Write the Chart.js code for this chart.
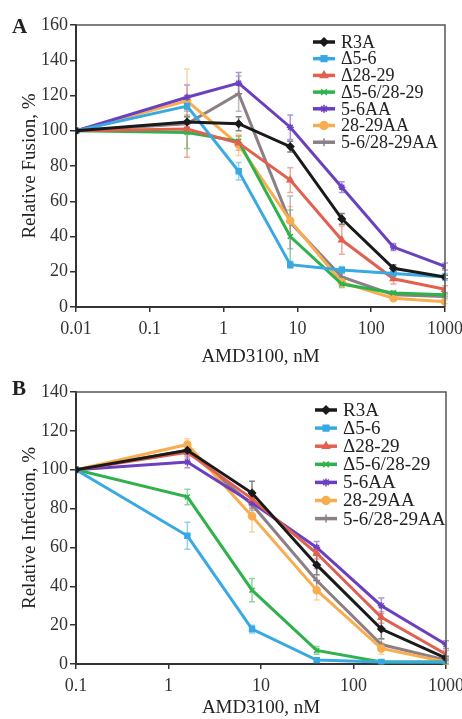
<!DOCTYPE html>
<html>
<head>
<meta charset="utf-8">
<script src="https://cdn.jsdelivr.net/npm/chart.js@4.4.0/dist/chart.umd.min.js"></script>
<style>
  body { margin: 0; background: #fff; width: 462px; height: 719px; overflow: hidden; }
  .panel { position: absolute; left: 0; width: 462px; }
  #panelA { top: 0; height: 368px; }
  #panelB { top: 368px; height: 351px; }
</style>
</head>
<body>
<div class="panel" id="panelA"><canvas id="fusion"></canvas></div>
<div class="panel" id="panelB"><canvas id="infection"></canvas></div>
<script>
// series names, same order in both panels
const seriesNames = ['R3A', 'Δ5-6', 'Δ28-29', 'Δ5-6/28-29', '5-6AA', '28-29AA', '5-6/28-29AA'];
const seriesColors = ['#1a1a1a', '#38a9e2', '#e2604f', '#2fb24c', '#6a40c0', '#f8ae50', '#8c7f86'];
const seriesMarkers = ['rectRot', 'rect', 'triangle', 'crossRot', 'star', 'circle', 'cross'];

// panel A - relative fusion
const doseA = [0.01, 0.32, 1.6, 8, 40, 200, 1000];
const fusionR3A     = [100, 105, 104, 91, 50, 22, 17];
const fusionD56     = [100, 114, 77, 24, 21, 19, 17];
const fusionD2829   = [100, 101, 93, 72, 38, 16, 10];
const fusionD56_2829 = [100, 99, 94, 40, 13, 8, 7];
const fusion56AA    = [100, 119, 127, 102, 68, 34, 23];
const fusion2829AA  = [100, 117, 92, 49, 14, 5, 3];
const fusion56_2829AA = [100, 104, 121, 48, 17, 7, 6];

const fusionErrR3A     = [0, 3, 4, 3, 3, 2, 1];
const fusionErrD56     = [0, 3, 5, 2, 2, 1, 2];
const fusionErrD2829   = [0, 16, 4, 7, 8, 3, 2];
const fusionErrD56_2829 = [0, 9, 3, 15, 2, 1, 1];
const fusionErr56AA    = [0, 7, 6, 7, 3, 2, 2];
const fusionErr2829AA  = [0, 18, 6, 8, 3, 1, 1];
const fusionErr56_2829AA = [0, 5, 10, 15, 3, 2, 1];

// panel B - relative infection
const doseB = [0.1, 1.6, 8, 40, 200, 1000];
const infectR3A     = [100, 110, 88, 51, 18, 3];
const infectD56     = [100, 66, 18, 2, 1, 1];
const infectD2829   = [100, 109, 85, 57, 24, 5];
const infectD56_2829 = [100, 86, 38, 7, 1, 1];
const infect56AA    = [100, 104, 83, 60, 30, 10];
const infect2829AA  = [100, 113, 76, 38, 8, 1];
const infect56_2829AA = [100, 110, 82, 43, 10, 2];

const infectErrR3A     = [0, 2, 6, 5, 5, 1];
const infectErrD56     = [0, 7, 2, 1, 1, 1];
const infectErrD2829   = [0, 3, 4, 3, 3, 2];
const infectErrD56_2829 = [0, 4, 6, 2, 1, 1];
const infectErr56AA    = [0, 3, 3, 3, 4, 2];
const infectErr2829AA  = [0, 3, 8, 5, 3, 1];
const infectErr56_2829AA = [0, 2, 3, 6, 3, 1];

const ticksA = [0.01, 0.1, 1, 10, 100, 1000];
const ticksB = [0.1, 1, 10, 100, 1000];

const serif = "'Liberation Serif', 'DejaVu Serif', serif";

function makeDatasets(dose, values, errors) {
  return values.map((vals, i) => ({
    label: seriesNames[i],
    data: vals.map((v, j) => ({ x: dose[j], y: v })),
    errors: errors[i],
    borderColor: seriesColors[i],
    backgroundColor: seriesColors[i],
    borderWidth: 3,
    pointStyle: seriesMarkers[i],
    pointRadius: 3.5,
    pointBorderWidth: 1.5,
    tension: 0
  }));
}

// error bars drawn under the lines using the chart scales
const errorBars = {
  id: 'errorBars',
  beforeDatasetsDraw(chart) {
    const ctx = chart.ctx;
    const xs = chart.scales.x, ys = chart.scales.y;
    ctx.save();
    ctx.globalAlpha = 0.55;
    ctx.lineWidth = 1.5;
    chart.data.datasets.forEach(ds => {
      ctx.strokeStyle = ds.borderColor;
      ds.data.forEach((p, j) => {
        const e = ds.errors[j];
        if (!e) return;
        const x = xs.getPixelForValue(p.x);
        const y1 = ys.getPixelForValue(p.y + e), y2 = ys.getPixelForValue(p.y - e);
        ctx.beginPath();
        ctx.moveTo(x, y1); ctx.lineTo(x, y2);
        ctx.moveTo(x - 3, y1); ctx.lineTo(x + 3, y1);
        ctx.moveTo(x - 3, y2); ctx.lineTo(x + 3, y2);
        ctx.stroke();
      });
    });
    ctx.restore();
  }
};

// frame, panel letter and a line+marker legend inside the plot
const panelDeco = {
  id: 'panelDeco',
  afterDraw(chart, args, opts) {
    const ctx = chart.ctx;
    const a = chart.chartArea;
    ctx.save();
    ctx.strokeStyle = '#555';
    ctx.lineWidth = 1.5;
    ctx.beginPath();
    ctx.moveTo(a.left, a.top); ctx.lineTo(a.right, a.top); ctx.lineTo(a.right, a.bottom);
    ctx.stroke();

    ctx.fillStyle = '#222';
    ctx.font = 'bold 21px ' + serif;
    ctx.textBaseline = 'alphabetic';
    ctx.fillText(opts.letter, 12, opts.letterY);

    ctx.font = opts.legendFont + 'px ' + serif;
    ctx.textBaseline = 'middle';
    chart.data.datasets.forEach((ds, i) => {
      const y = opts.legendY + i * opts.legendStep;
      const x0 = opts.legendX;
      ctx.strokeStyle = ds.borderColor;
      ctx.lineWidth = 3.5;
      ctx.beginPath();
      ctx.moveTo(x0, y); ctx.lineTo(x0 + 22, y);
      ctx.stroke();
      ctx.fillStyle = ds.borderColor;
      ctx.lineWidth = 1.5;
      Chart.helpers.drawPoint(ctx, { pointStyle: ds.pointStyle, radius: 4, rotation: 0, borderWidth: 1.5 }, x0 + 11, y);
      ctx.fillStyle = '#222';
      ctx.fillText(ds.label, x0 + 28, y + 1);
    });
    ctx.restore();
  }
};

function makeOptions(cfg) {
  return {
    responsive: true,
    maintainAspectRatio: false,
    animation: false,
    layout: { padding: cfg.padding },
    plugins: {
      legend: { display: false },
      tooltip: { enabled: false },
      panelDeco: cfg.deco
    },
    scales: {
      x: {
        type: 'logarithmic',
        min: cfg.xTicks[0],
        max: cfg.xTicks[cfg.xTicks.length - 1],
        afterBuildTicks: s => { s.ticks = cfg.xTicks.map(v => ({ value: v })); },
        afterFit: s => { s.height = cfg.xHeight; s.paddingLeft = 0; s.paddingRight = 0; },
        grid: { drawOnChartArea: false, tickLength: 5, color: '#333', lineWidth: 1.5 },
        border: { color: '#333', width: 2 },
        ticks: {
          color: '#333',
          font: { family: serif, size: 18 },
          padding: 6,
          maxRotation: 0,
          autoSkip: false,
          callback: v => String(v)
        },
        title: {
          display: true,
          text: 'AMD3100, nM',
          color: '#222',
          font: { family: serif, size: 19 },
          padding: { top: 0, bottom: 0 }
        }
      },
      y: {
        min: 0,
        max: cfg.yMax,
        afterFit: s => { s.width = cfg.yWidth; s.paddingTop = 0; s.paddingBottom = 0; },
        ticks: { stepSize: 20, color: '#333', font: { family: serif, size: 18 }, padding: 2 },
        grid: { drawOnChartArea: false, tickLength: 6, color: '#333', lineWidth: 1.5 },
        border: { color: '#333', width: 2 },
        title: {
          display: true,
          text: cfg.yTitle,
          color: '#222',
          font: { family: serif, size: 19 },
          padding: { top: 9, bottom: 0 }
        }
      }
    }
  };
}

new Chart(document.getElementById('fusion'), {
  type: 'line',
  data: {
    datasets: makeDatasets(doseA,
      [fusionR3A, fusionD56, fusionD2829, fusionD56_2829, fusion56AA, fusion2829AA, fusion56_2829AA],
      [fusionErrR3A, fusionErrD56, fusionErrD2829, fusionErrD56_2829, fusionErr56AA, fusionErr2829AA, fusionErr56_2829AA])
  },
  options: makeOptions({
    padding: { top: 25, right: 17, bottom: 0, left: 10 },
    xTicks: ticksA, xHeight: 61, yMax: 160, yWidth: 66,
    yTitle: 'Relative Fusion, %',
    deco: { letter: 'A', letterY: 33, legendX: 313, legendY: 42, legendStep: 16.7, legendFont: 18 }
  }),
  plugins: [errorBars, panelDeco]
});

new Chart(document.getElementById('infection'), {
  type: 'line',
  data: {
    datasets: makeDatasets(doseB,
      [infectR3A, infectD56, infectD2829, infectD56_2829, infect56AA, infect2829AA, infect56_2829AA],
      [infectErrR3A, infectErrD56, infectErrD2829, infectErrD56_2829, infectErr56AA, infectErr2829AA, infectErr56_2829AA])
  },
  options: makeOptions({
    padding: { top: 24, right: 16, bottom: 0, left: 10 },
    xTicks: ticksB, xHeight: 55, yMax: 140, yWidth: 66,
    yTitle: 'Relative Infection, %',
    deco: { letter: 'B', letterY: 27, legendX: 315, legendY: 42, legendStep: 18.1, legendFont: 19 }
  }),
  plugins: [errorBars, panelDeco]
});
</script>
</body>
</html>
